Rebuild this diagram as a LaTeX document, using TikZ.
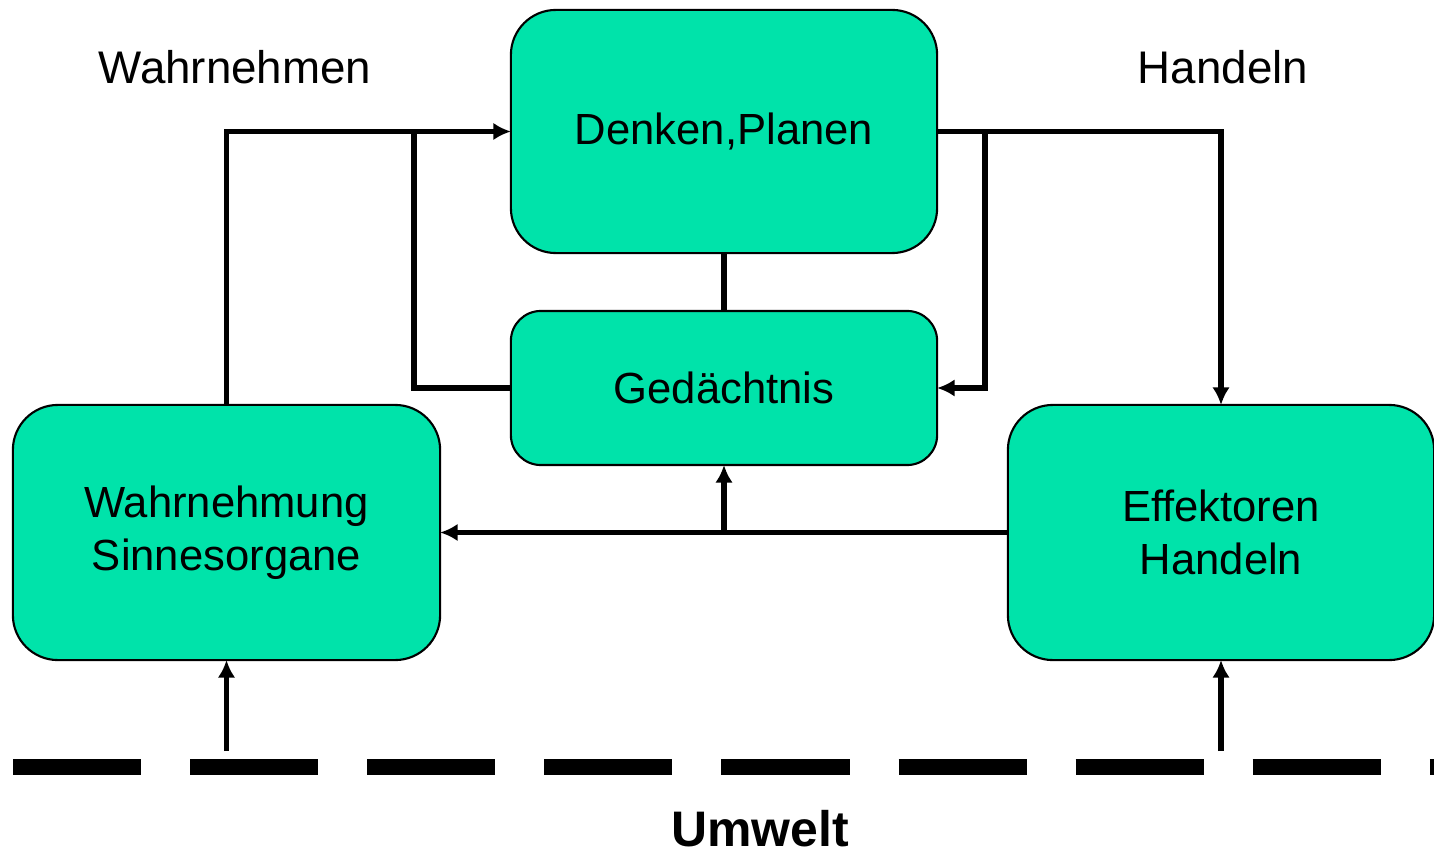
\documentclass[tikz,border=0pt]{standalone}
\usepackage{fontspec}
\setmainfont{Liberation Sans}
\usepackage{xcolor}
\usetikzlibrary{arrows.meta}
\definecolor{boxgreen}{RGB}{0,227,170}
\tikzstyle{greenbox} = [draw=black, fill=boxgreen, line width=0.6pt,
rectangle, rounded corners=0.45cm, outer sep=0pt, align=center,
font=\fontsize{12.4pt}{15pt}\selectfont]
\tikzstyle{conn} = [draw=black, line width=1.5pt]
\tikzstyle{arr} = [conn, -{Latex[length=5pt,width=5pt]}]
\tikzstyle{label} = [font=\fontsize{13pt}{15pt}\selectfont]

\begin{document}
\begin{tikzpicture}[x=0.01cm, y=-0.01cm]
        \useasboundingbox (0,0) rectangle (1434,858);
        \node [greenbox, minimum width=4.26cm, minimum height=2.43cm] (denk) at (724,131.5) {Denken,Planen};
        \node [greenbox, minimum width=4.26cm, minimum height=1.54cm, rounded corners=0.3cm] (ged) at (724,388) {Ged\"achtnis};
        \node [greenbox, minimum width=4.27cm, minimum height=2.55cm] (wahr) at (226.5,532.5) {Wahrnehmung\\Sinnesorgane};
        \node [greenbox, minimum width=4.26cm, minimum height=2.55cm] (eff) at (1221,532.5) {Effektoren\\Handeln};
        \node [label] (wlabel) at (235,67) {Wahrnehmen};
        \node [label] (hlabel) at (1223,67) {Handeln};
        \node [font=\fontsize{14.2pt}{17pt}\selectfont\bfseries, inner sep=0pt] (umwelt) at (760,829) {Umwelt};
        \coordinate (jl) at (414,131.5);
        \coordinate (jr) at (985,131.5);
        \coordinate (jm) at (724,532.5);
        \coordinate (sl) at (226.5,751);
        \coordinate (sr) at (1221,751);
        \draw [arr] (wahr.north) |- (denk.west);
        \draw [conn] (ged.west) -| (jl);
        \draw [conn] (denk.south) -- (ged.north);
        \draw [arr] (denk.east) -| (eff.north);
        \draw [arr] (jr) |- (ged.east);
        \draw [arr] (eff.west) -- (wahr.east);
        \draw [arr] (jm) -- (ged.south);
        \draw [arr] (sl) -- (wahr.south);
        \draw [arr] (sr) -- (eff.south);
        \draw [line width=4.5pt, dash pattern=on 1.28cm off 0.49cm] (13,767) -- (1434,767);
    \end{tikzpicture}
\end{document}
